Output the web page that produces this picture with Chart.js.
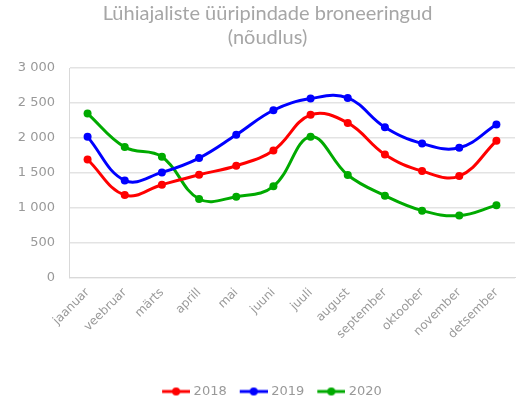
<!DOCTYPE html>
<html lang="et">
<head>
  <meta charset="UTF-8">
  <title>Lühiajaliste üüripindade broneeringud</title>
  <script src="https://cdn.jsdelivr.net/npm/chart.js"></script>
  <style>
    body { margin: 0; background: #fff; }
    #wrap { width: 519px; height: 400px; }
  </style>
</head>
<body>
<div id="wrap"><canvas id="chart" width="519" height="400"></canvas></div>
<script>
const months = ['jaanuar', 'veebruar', 'märts', 'aprill', 'mai', 'juuni',
  'juuli', 'august', 'september', 'oktoober', 'november', 'detsember'];
const values2018 = [1690, 1181, 1329, 1471, 1600, 1819, 2329, 2214, 1762, 1524, 1452, 1957];
const values2019 = [2014, 1390, 1505, 1710, 2043, 2395, 2562, 2571, 2152, 1919, 1857, 2190];
const values2020 = [2348, 1867, 1729, 1124, 1157, 1305, 2014, 1467, 1171, 957, 886, 1033];

const titleFont = 'Lato, "Open Sans", sans-serif';
const axisFont = '"DejaVu Sans", sans-serif';

// line + dot image for the legend, blank room on the left keeps items apart
function legendMark(color) {
  const c = document.createElement('canvas');
  c.width = 40; c.height = 10;
  const g = c.getContext('2d');
  g.strokeStyle = color;
  g.lineWidth = 3;
  g.beginPath(); g.moveTo(12, 5); g.lineTo(40, 5); g.stroke();
  g.fillStyle = color;
  g.beginPath(); g.arc(26, 5, 4, 0, Math.PI * 2); g.fill();
  return c;
}

function series(label, data, color) {
  return {
    label: label,
    data: data,
    borderColor: color,
    backgroundColor: color,
    pointBackgroundColor: color,
    pointBorderWidth: 0,
    pointRadius: 4,
    borderWidth: 3,
    tension: 0.4,
    fill: false,
    legendMark: legendMark(color)
  };
}

new Chart(document.getElementById('chart'), {
  type: 'line',
  data: {
    labels: months,
    datasets: [
      series('2018', values2018, '#ff0000'),
      series('2019', values2019, '#0000ff'),
      series('2020', values2020, '#00aa00')
    ]
  },
  options: {
    responsive: false,
    animation: false,
    layout: { padding: { left: 16, right: 0, top: 0, bottom: -8 } },
    plugins: {
      title: {
        display: true,
        text: ['Lühiajaliste üüripindade broneeringud', '(nõudlus)'],
        color: '#a6a6a6',
        font: { family: titleFont, size: 20, weight: 'normal', lineHeight: 1.2 },
        padding: { top: 2, bottom: 18 }
      },
      legend: {
        position: 'bottom',
        // empty title only makes room above the legend row
        title: { display: true, text: ' ', font: { size: 12 }, padding: { top: 7, bottom: 10 } },
        labels: {
          usePointStyle: true,
          pointStyleWidth: 34,
          color: '#999',
          font: { family: axisFont, size: 13 },
          padding: 4,
          generateLabels(chart) {
            return chart.data.datasets.map((ds, i) => ({
              text: ds.label,
              fontColor: '#999',
              pointStyle: ds.legendMark,
              hidden: false,
              datasetIndex: i,
              lineWidth: 0,
              strokeStyle: 'transparent',
              fillStyle: ds.borderColor
            }));
          }
        }
      },
      tooltip: { enabled: false }
    },
    scales: {
      x: {
        offset: true,
        grid: { display: false, drawTicks: false },
        border: { display: true, color: '#d9d9d9' },
        ticks: {
          color: '#999',
          font: { family: axisFont, size: 12 },
          maxRotation: 45,
          minRotation: 45,
          padding: 8
        },
        afterFit(scale) { scale.paddingLeft = 0; }
      },
      y: {
        min: 0,
        max: 3000,
        grid: { color: '#e3e3e3', drawTicks: false, lineWidth: 1.5 },
        border: { display: true, color: '#d9d9d9' },
        ticks: {
          stepSize: 500,
          color: '#999',
          font: { family: axisFont, size: 13 },
          padding: 14,
          callback: v => String(v).replace(/\B(?=(\d{3})+(?!\d))/g, ' ')
        },
        afterFit(scale) { scale.width = 53; }
      }
    }
  }
});
</script>
</body>
</html>
